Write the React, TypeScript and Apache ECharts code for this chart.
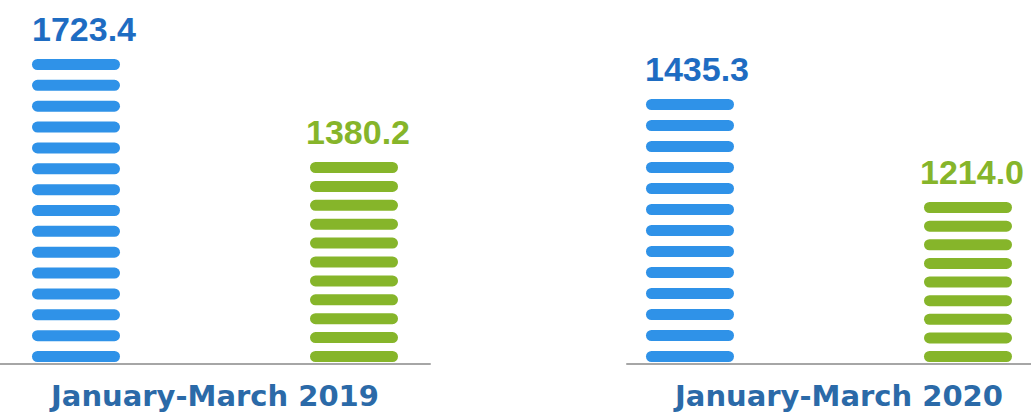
import React, { useEffect, useRef } from "react";
import * as echarts from "echarts";

const periods = ["January-March 2019", "January-March 2020"];
const blueValues = [1723.4, 1435.3];
const greenValues = [1380.2, 1214.0];
const bluePills = [15, 13];
const greenPills = [11, 9];
const axisMin = [707, 866];

const BLUE = "#2f92e8";
const GREEN = "#86b52a";
const BLUE_TEXT = "#1e6cc2";
const CAT_TEXT = "#2b6aa8";
const VALUE_FONT = "bold 34px 'Liberation Sans', Arial, sans-serif";

export default function App() {
  const ref = useRef<HTMLDivElement>(null);
  useEffect(() => {
    if (!ref.current) return;
    const chart = echarts.init(ref.current, null, { renderer: "svg" });
    const grids = [
      { left: 0, width: 430, top: 59, height: 305 },
      { left: 627, width: 408, top: 99, height: 265 },
    ];

    const makeRender = (gridIdx: number, dx: number, color: string, textColor: string, textDx: number) =>
      (params: any, api: any) => {
        const value = api.value(1);
        const count = api.value(2);
        const topPt = api.coord([api.value(0), value]);
        const basePt = api.coord([api.value(0), axisMin[gridIdx]]);
        const cx = topPt[0] + dx;
        const pillW = 88;
        const pillH = 11;
        const bottomY = basePt[1] - 2 - pillH;
        const topY = topPt[1];
        const step = count > 1 ? (bottomY - topY) / (count - 1) : 0;
        const children: any[] = [];
        for (let k = 0; k < count; k++) {
          children.push({
            type: "rect",
            shape: { x: cx - pillW / 2, y: topY + k * step, width: pillW, height: pillH, r: pillH / 2 },
            style: { fill: color },
          });
        }
        children.push({
          type: "text",
          style: {
            text: Number(value).toFixed(1),
            x: cx + textDx,
            y: topY - 13,
            align: "center",
            verticalAlign: "bottom",
            font: VALUE_FONT,
            fill: textColor,
          },
        });
        return { type: "group", children };
      };

    const series: any[] = [];
    periods.forEach((p, i) => {
      series.push({
        type: "custom",
        xAxisIndex: i,
        yAxisIndex: i,
        encode: { x: 0, y: 1 },
        data: [[0, blueValues[i], bluePills[i]]],
        renderItem: makeRender(i, -139, BLUE, BLUE_TEXT, i === 0 ? 8 : 7),
      });
      series.push({
        type: "custom",
        xAxisIndex: i,
        yAxisIndex: i,
        encode: { x: 0, y: 1 },
        data: [[0, greenValues[i], greenPills[i]]],
        renderItem: makeRender(i, 139, GREEN, GREEN, 4),
      });
    });

    chart.setOption({
      animation: false,
      grid: grids,
      xAxis: periods.map((p, i) => ({
        type: "category",
        gridIndex: i,
        data: [p],
        axisLine: { show: true, lineStyle: { color: "#a6a6a6", width: 2 } },
        axisTick: { show: false },
        axisLabel: {
          margin: 17,
          fontFamily: "'DejaVu Sans', sans-serif",
          fontWeight: "bold",
          fontSize: 29,
          color: CAT_TEXT,
          padding: i === 1 ? [0, 0, 0, 20] : 0,
        },
      })),
      yAxis: periods.map((p, i) => ({
        type: "value",
        gridIndex: i,
        min: axisMin[i],
        max: blueValues[i],
        show: false,
        splitLine: { show: false },
      })),
      series,
    });
    return () => chart.dispose();
  }, []);
  return (
    <div
      ref={ref}
      style={{ position: "fixed", left: 0, top: 0, width: 1031, height: 419, background: "#fff" }}
    />
  );
}
